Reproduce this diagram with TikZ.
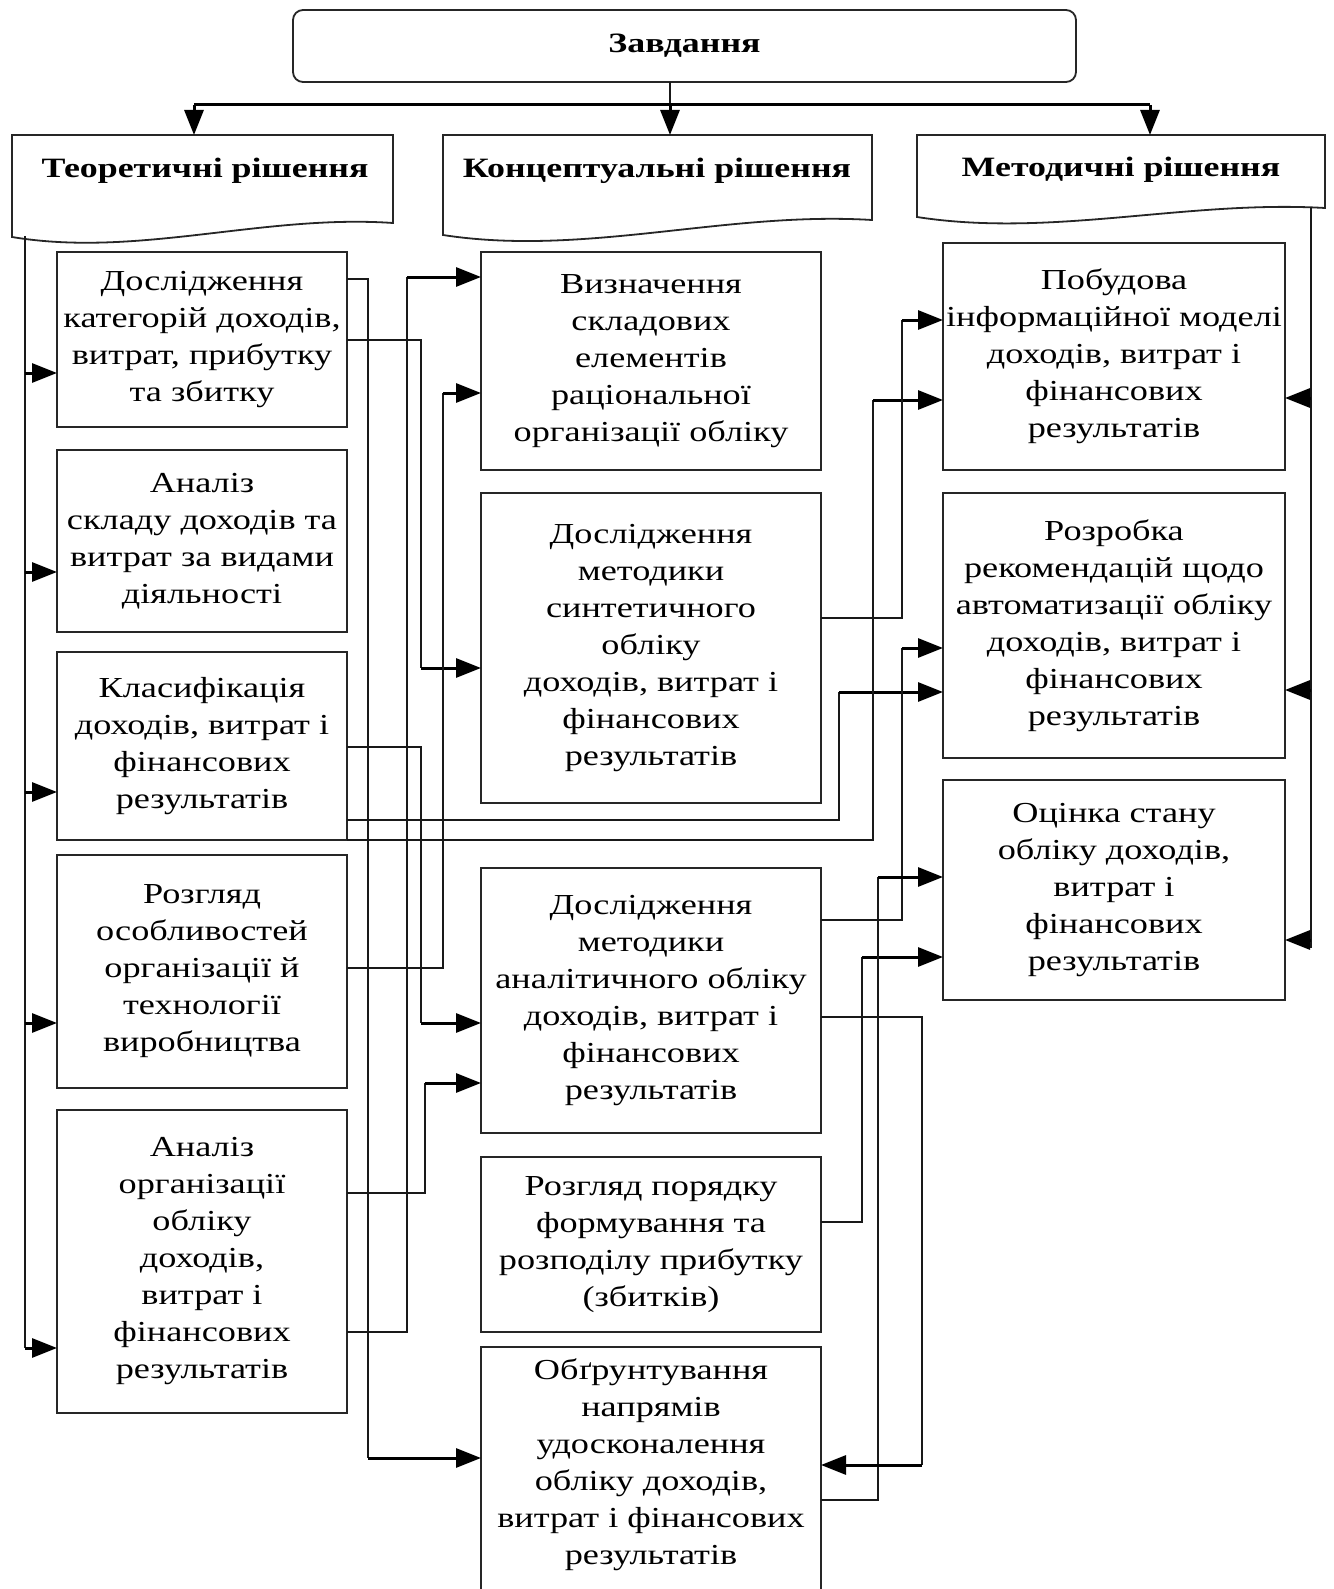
\documentclass[tikz,border=0pt]{standalone}
\usepackage{fontspec}
\setmainfont{Liberation Serif}[FakeStretch=1.25]
\newfontfamily\hdrfont{Liberation Serif}[FakeStretch=1.28]
\usetikzlibrary{arrows.meta}
\begin{document}
\begin{tikzpicture}[x=1pt,y=-1pt,
  box/.style={draw=black!85, line width=1.8pt, anchor=north west, inner sep=0pt, outer sep=0pt, align=center, font=\fontsize{29}{37}\selectfont},
  boxline/.style={draw=black!85, line width=1.8pt},
  conn/.style={draw=black!90, line width=1.5pt},
  arr/.style={draw=black, line width=3pt, -{Triangle[length=25pt,width=19pt]}},
  hdr/.style={draw=black!85, line width=1.8pt, fill=white},
  hdrtext/.style={font=\hdrfont\bfseries\fontsize{28}{34}\selectfont, inner sep=0pt},
]
\useasboundingbox[fill=white] (0,0) rectangle (1333,1589);

% top box
\node[draw=black!85, line width=1.8pt, rounded corners=10pt, minimum width=783pt, minimum height=72pt, anchor=north west, inner sep=0pt, outer sep=0pt, hdrtext] (T) at (293,10) {Завдання};

% headers
\draw[hdr] (12,135) -- (393,135) -- (393,223) .. controls (263,214) and (138,258) .. (12,237) -- cycle;
\node[hdrtext] (H1) at (205,171) {Теоретичні рішення};
\draw[hdr] (443,135) -- (872,135) -- (872,220) .. controls (726,211) and (585,257) .. (443,235) -- cycle;
\node[hdrtext] (H2) at (657,171) {Концептуальні рішення};
\draw[hdr] (917,135) -- (1325,135) -- (1325,208) .. controls (1186,200) and (1052,238) .. (917,217) -- cycle;
\node[hdrtext] (H3) at (1121,170) {Методичні рішення};

\coordinate (H1top) at (194,135);
\coordinate (H2top) at (670,135);
\coordinate (H3top) at (1150,135);
\coordinate (split) at (670,105);

\draw[conn] (T.south -| split) -- (split);
\draw[line width=3pt] (H1top |- split) -- (H3top |- split);
\draw[arr] (H1top |- split) -- (H1top);
\draw[arr] (split) -- (H2top);
\draw[arr] (H3top |- split) -- (H3top);

% left column
\node[box, minimum width=290pt, minimum height=175pt] (L1) at (57,252) {Дослідження\\категорій доходів,\\витрат, прибутку\\та збитку};
\node[box, minimum width=290pt, minimum height=182pt] (L2) at (57,450) {Аналіз\\складу доходів та\\витрат за видами\\діяльності};
\node[box, minimum width=290pt, minimum height=188pt] (L3) at (57,652) {Класифікація\\доходів, витрат і\\фінансових\\результатів};
\node[box, minimum width=290pt, minimum height=233pt] (L4) at (57,855) {Розгляд\\особливостей\\організації й\\технології\\виробництва};
\node[box, minimum width=290pt, minimum height=303pt] (L5) at (57,1110) {Аналіз\\організації\\обліку\\доходів,\\витрат і\\фінансових\\результатів};

% middle column
\node[box, minimum width=340pt, minimum height=218pt] (M1) at (481,252) {Визначення\\складових\\елементів\\раціональної\\організації обліку};
\node[box, minimum width=340pt, minimum height=310pt] (M2) at (481,493) {Дослідження\\методики\\синтетичного\\обліку\\доходів, витрат і\\фінансових\\результатів};
\node[box, minimum width=340pt, minimum height=265pt] (M3) at (481,868) {Дослідження\\методики\\аналітичного обліку\\доходів, витрат і\\фінансових\\результатів};
\node[box, minimum width=340pt, minimum height=175pt] (M4) at (481,1157) {Розгляд порядку\\формування та\\розподілу прибутку\\(збитків)};
\node[box, draw=none, minimum width=340pt, minimum height=236pt] (M5) at (481,1347) {Обґрунтування\\напрямів\\удосконалення\\обліку доходів,\\витрат і фінансових\\результатів};
\draw[boxline] (M5.south west |- 0,1600) -- (M5.north west) -- (M5.north east) -- (M5.south east |- 0,1600);

% right column
\node[box, minimum width=342pt, minimum height=227pt] (R1) at (943,243) {Побудова\\інформаційної моделі\\доходів, витрат і\\фінансових\\результатів};
\node[box, minimum width=342pt, minimum height=265pt] (R2) at (943,493) {Розробка\\рекомендацій щодо\\автоматизації обліку\\доходів, витрат і\\фінансових\\результатів};
\node[box, minimum width=342pt, minimum height=220pt] (R3) at (943,780) {Оцінка стану\\обліку доходів,\\витрат і\\фінансових\\результатів};

% left bus
\coordinate (lb) at (25,236);
\draw[conn] (lb) -- (25,1348);
\draw[arr] (25,373) -- (L1.west |- 0,373);
\draw[arr] (25,572) -- (L2.west |- 0,572);
\draw[arr] (25,792) -- (L3.west |- 0,792);
\draw[arr] (25,1023) -- (L4.west |- 0,1023);
\draw[arr] (25,1348) -- (L5.west |- 0,1348);

% right bus
\coordinate (rb) at (1311,207);
\draw[conn] (rb) -- (1311,948);
\draw[arr] (1311,398) -- (R1.east |- 0,398);
\draw[arr] (1311,690) -- (R2.east |- 0,690);
\draw[arr] (1311,940) -- (R3.east |- 0,940);

% left -> middle
\draw[conn] (L1.east |- 0,279) -| (368,1458);
\draw[arr] (368,1458) -- (M5.west |- 0,1458);
\draw[conn] (L1.east |- 0,340) -| (421,668);
\draw[arr] (421,668) -- (M2.west |- 0,668);
\draw[conn] (L3.east |- 0,747) -| (421,1023);
\draw[arr] (421,1023) -- (M3.west |- 0,1023);
\draw[conn] (L4.east |- 0,968) -| (443,393);
\draw[arr] (443,393) -- (M1.west |- 0,393);
\draw[conn] (L5.east |- 0,1193) -| (425,1083);
\draw[arr] (425,1083) -- (M3.west |- 0,1083);
\draw[conn] (L5.east |- 0,1332) -| (407,277);
\draw[arr] (407,277) -- (M1.west |- 0,277);

% left -> right
\draw[conn] (L3.east |- 0,820) -| (839,692);
\draw[arr] (839,692) -- (R2.west |- 0,692);
\draw[conn] (L3.south east) -| (873,400);
\draw[arr] (873,400) -- (R1.west |- 0,400);

% middle -> right
\draw[conn] (M2.east |- 0,618) -| (902,320);
\draw[arr] (902,320) -- (R1.west |- 0,320);
\draw[conn] (M3.east |- 0,920) -| (902,648);
\draw[arr] (902,648) -- (R2.west |- 0,648);
\draw[conn] (M4.east |- 0,1222) -| (862,957);
\draw[arr] (862,957) -- (R3.west |- 0,957);
\draw[conn] (M5.east |- 0,1500) -| (878,877);
\draw[arr] (878,877) -- (R3.west |- 0,877);

% middle -> middle
\draw[conn] (M3.east |- 0,1017) -| (922,1465);
\draw[arr] (922,1465) -- (M5.east |- 0,1465);
\end{tikzpicture}
\end{document}
